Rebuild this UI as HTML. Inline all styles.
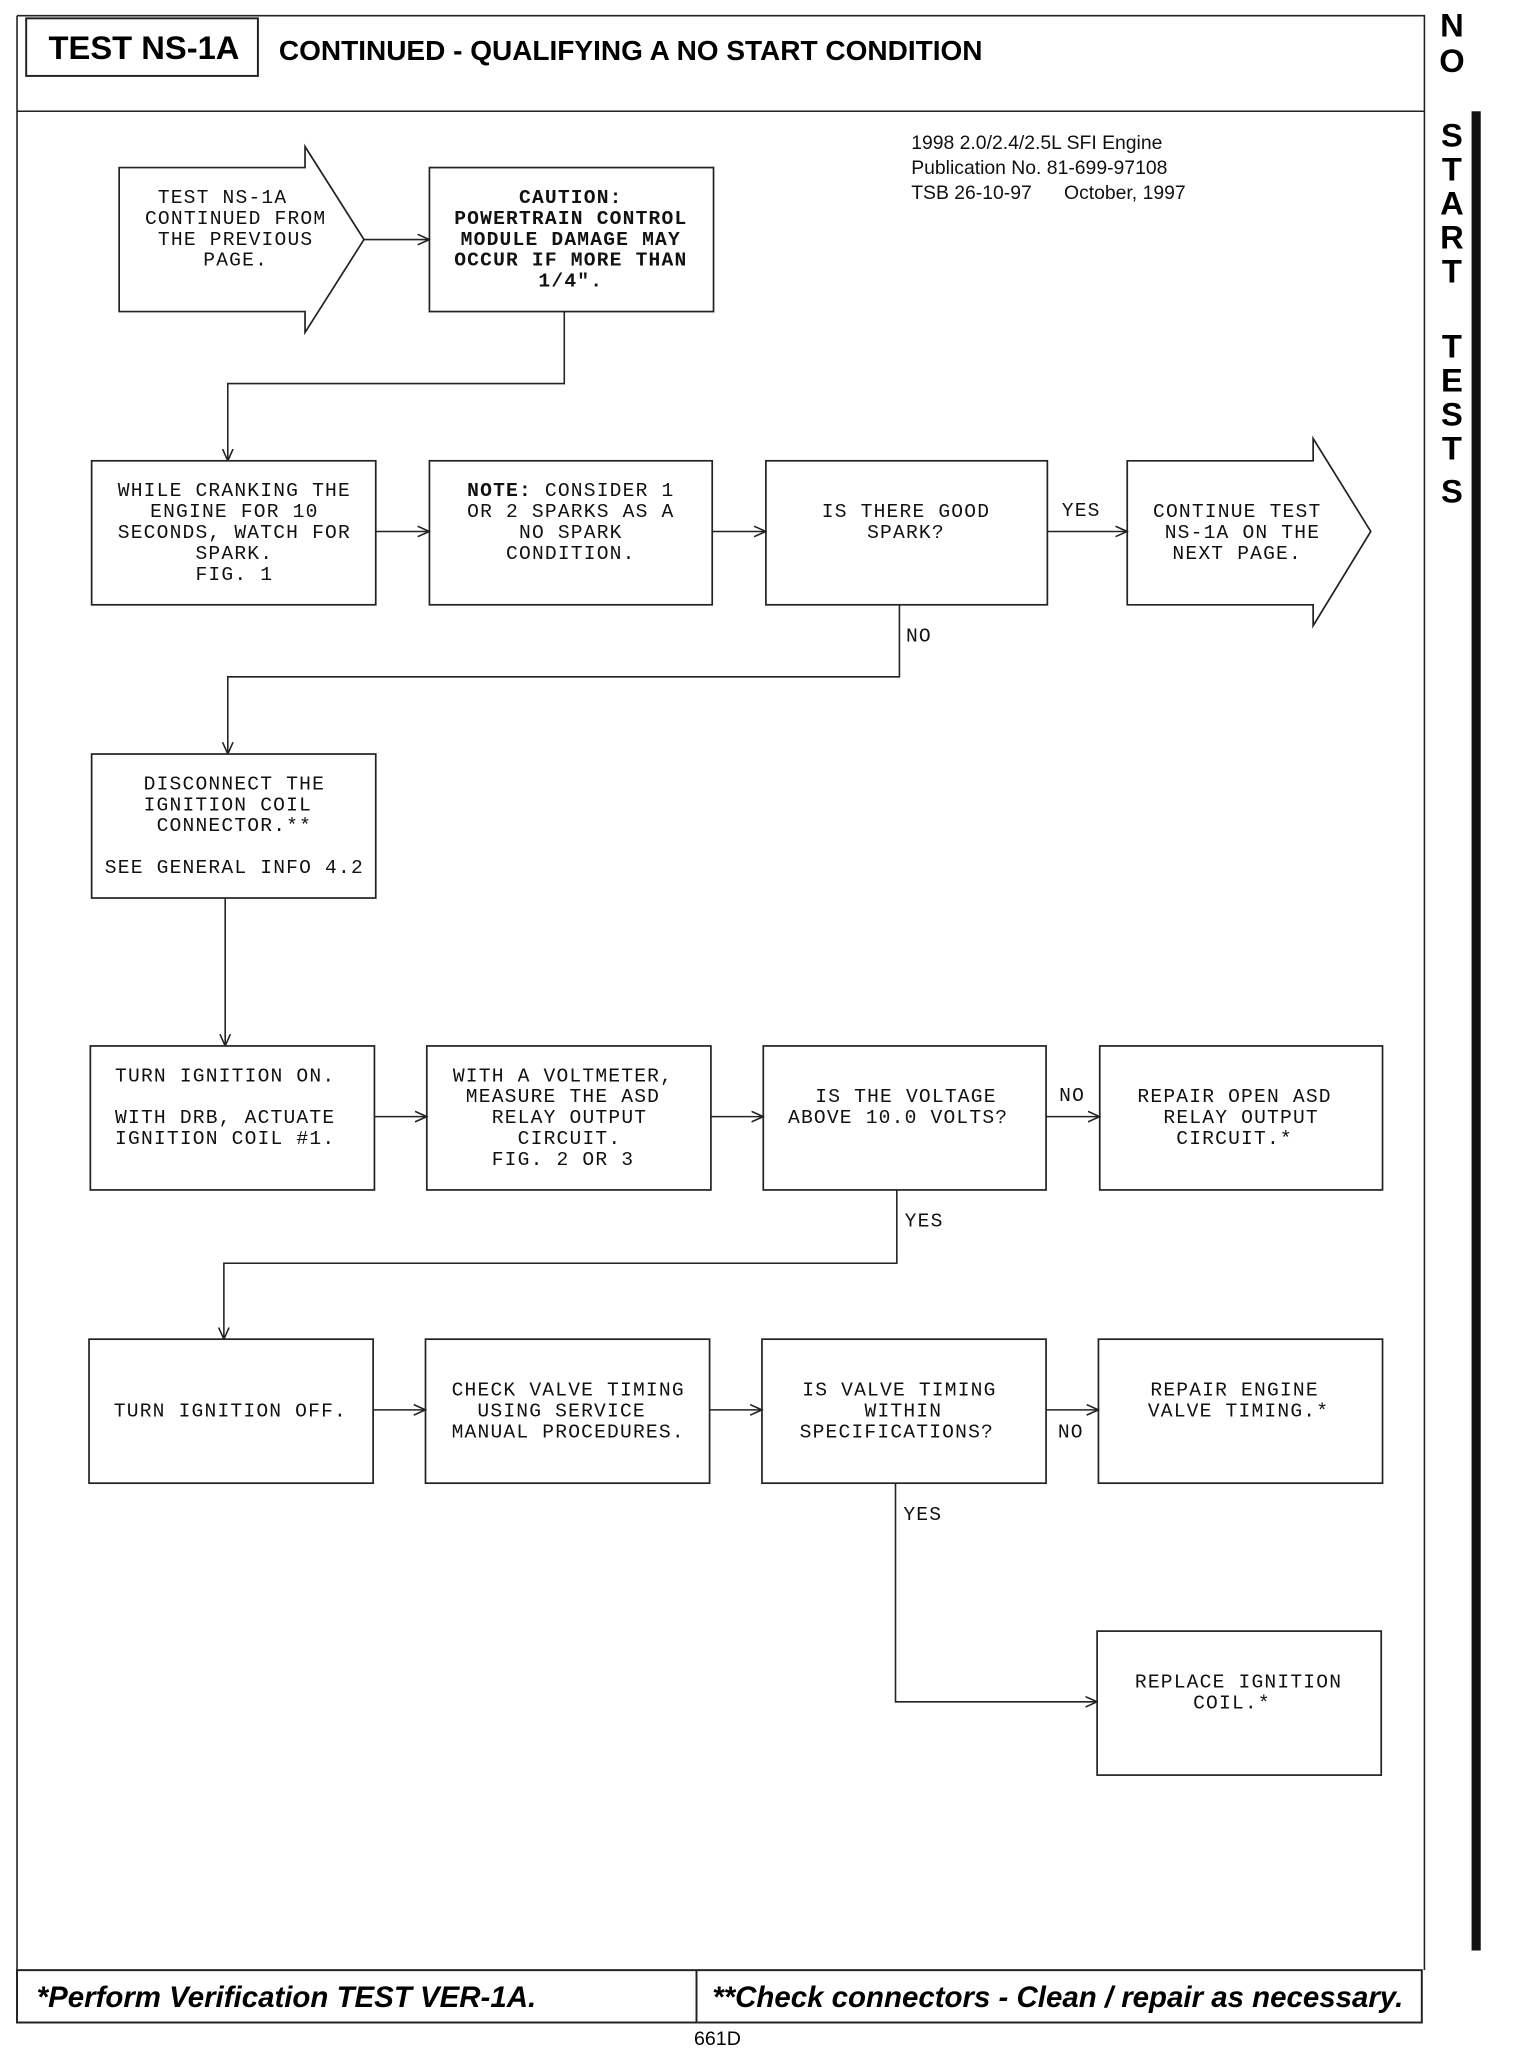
<!DOCTYPE html>
<html><head><meta charset="utf-8"><style>
html,body{margin:0;padding:0;background:#fff;}
svg{display:block;}
.m{font-family:"Liberation Mono",monospace;font-size:15px;letter-spacing:0.9px;fill:#111;}
.s{font-family:"Liberation Sans",sans-serif;font-size:14.8px;fill:#111;}
.l{stroke:#222;stroke-width:1.2;fill:none;}
.b{stroke:#222;stroke-width:1.3;fill:#fff;}
</style></head><body>
<svg width="1520" height="2050" viewBox="0 0 1161 1566" preserveAspectRatio="none" xmlns="http://www.w3.org/2000/svg">
<defs><marker id="a" markerWidth="10" markerHeight="10" refX="9" refY="5" orient="auto" markerUnits="userSpaceOnUse"><path d="M0,1 L9,5 L0,9" fill="none" stroke="#222" stroke-width="1.2"/></marker></defs>
<path class="l" d="M13,12 L1088,12 L1088,1505 M13,12 L13,1545 M13,85 L1088,85" stroke-width="1.5"/>
<rect x="20" y="14" width="177" height="44" fill="none" stroke="#222" stroke-width="1.5"/>
<text x="110" y="45" text-anchor="middle" style="font-family:'Liberation Sans',sans-serif;font-weight:bold;font-size:25px">TEST NS-1A</text>
<text x="213" y="46" style="font-family:'Liberation Sans',sans-serif;font-weight:bold;font-size:21.4px">CONTINUED - QUALIFYING A NO START CONDITION</text>
<rect x="1124" y="85" width="7" height="1405" fill="#111"/>
<g style="font-family:'Liberation Sans',sans-serif;font-weight:bold;font-size:25px" text-anchor="middle">
<text x="1109" y="28">N</text><text x="1109" y="55">O</text>
<text x="1109" y="112">S</text><text x="1109" y="138">T</text><text x="1109" y="164">A</text><text x="1109" y="190">R</text><text x="1109" y="216">T</text>
<text x="1109" y="273">T</text><text x="1109" y="299">E</text><text x="1109" y="325">S</text><text x="1109" y="351">T</text><text x="1109" y="384">S</text>
</g>
<text class="s" x="696" y="114">1998 2.0/2.4/2.5L SFI Engine</text>
<text class="s" x="696" y="133">Publication No. 81-699-97108</text>
<text class="s" x="696" y="152">TSB 26-10-97 &#160;&#160;&#160;&#160; October, 1997</text>
<polygon class="b" points="91,128 233,128 233,112 278,183 233,254 233,238 91,238"/>
<g class="m" text-anchor="middle"><text x="170" y="155">TEST NS-1A</text><text x="180" y="171">CONTINUED FROM</text><text x="180" y="187">THE PREVIOUS</text><text x="180" y="203">PAGE.</text></g>
<rect class="b" x="328" y="128" width="217" height="110"/>
<g class="m" text-anchor="middle" font-weight="bold"><text x="436" y="155">CAUTION:</text><text x="436" y="171">POWERTRAIN CONTROL</text><text x="436" y="187">MODULE DAMAGE MAY</text><text x="436" y="203">OCCUR IF MORE THAN</text><text x="436" y="219">1/4".</text></g>
<path class="l" d="M278,183 L328,183" marker-end="url(#a)"/>
<path class="l" d="M431,238 L431,293 L174,293 L174,352" marker-end="url(#a)"/>
<rect class="b" x="70" y="352" width="217" height="110"/>
<g class="m" text-anchor="middle"><text x="179" y="379">WHILE CRANKING THE</text><text x="179" y="395">ENGINE FOR 10</text><text x="179" y="411">SECONDS, WATCH FOR</text><text x="179" y="427">SPARK.</text><text x="179" y="443">FIG. 1</text></g>
<rect class="b" x="328" y="352" width="216" height="110"/>
<g class="m" text-anchor="middle"><text x="436" y="379"><tspan font-weight="bold">NOTE:</tspan> CONSIDER 1</text><text x="436" y="395">OR 2 SPARKS AS A</text><text x="436" y="411">NO SPARK</text><text x="436" y="427">CONDITION.</text></g>
<rect class="b" x="585" y="352" width="215" height="110"/>
<g class="m" text-anchor="middle"><text x="692" y="395">IS THERE GOOD</text><text x="692" y="411">SPARK?</text></g>
<polygon class="b" points="861,352 1003,352 1003,335 1047,406 1003,478 1003,462 861,462"/>
<g class="m" text-anchor="middle"><text x="945" y="395">CONTINUE TEST</text><text x="949" y="411">NS-1A ON THE</text><text x="945" y="427">NEXT PAGE.</text></g>
<path class="l" d="M287,406 L328,406" marker-end="url(#a)"/>
<path class="l" d="M544,406 L585,406" marker-end="url(#a)"/>
<path class="l" d="M800,406 L861,406" marker-end="url(#a)"/>
<text class="m" x="811" y="394">YES</text>
<path class="l" d="M687,462 L687,517 L174,517 L174,576" marker-end="url(#a)"/>
<text class="m" x="692" y="490">NO</text>
<rect class="b" x="70" y="576" width="217" height="110"/>
<g class="m" text-anchor="middle"><text x="179" y="603">DISCONNECT THE</text><text x="174" y="619">IGNITION COIL</text><text x="179" y="635">CONNECTOR.**</text><text x="179" y="667">SEE GENERAL INFO 4.2</text></g>
<path class="l" d="M172,686 L172,799" marker-end="url(#a)"/>
<rect class="b" x="69" y="799" width="217" height="110"/>
<g class="m" text-anchor="middle"><text x="172" y="826">TURN IGNITION ON.</text><text x="172" y="858">WITH DRB, ACTUATE</text><text x="172" y="874">IGNITION COIL #1.</text></g>
<rect class="b" x="326" y="799" width="217" height="110"/>
<g class="m" text-anchor="middle"><text x="430" y="826">WITH A VOLTMETER,</text><text x="430" y="842">MEASURE THE ASD</text><text x="435" y="858">RELAY OUTPUT</text><text x="435" y="874">CIRCUIT.</text><text x="430" y="890">FIG. 2 OR 3</text></g>
<rect class="b" x="583" y="799" width="216" height="110"/>
<g class="m" text-anchor="middle"><text x="692" y="842">IS THE VOLTAGE</text><text x="686" y="858">ABOVE 10.0 VOLTS?</text></g>
<rect class="b" x="840" y="799" width="216" height="110"/>
<g class="m" text-anchor="middle"><text x="943" y="842">REPAIR OPEN ASD</text><text x="948" y="858">RELAY OUTPUT</text><text x="943" y="874">CIRCUIT.*</text></g>
<path class="l" d="M286,853 L326,853" marker-end="url(#a)"/>
<path class="l" d="M543,853 L583,853" marker-end="url(#a)"/>
<path class="l" d="M799,853 L840,853" marker-end="url(#a)"/>
<text class="m" x="809" y="841">NO</text>
<path class="l" d="M685,909 L685,965 L171,965 L171,1023" marker-end="url(#a)"/>
<text class="m" x="691" y="937">YES</text>
<rect class="b" x="68" y="1023" width="217" height="110"/>
<text class="m" x="176" y="1082" text-anchor="middle">TURN IGNITION OFF.</text>
<rect class="b" x="325" y="1023" width="217" height="110"/>
<g class="m" text-anchor="middle"><text x="434" y="1066">CHECK VALVE TIMING</text><text x="429" y="1082">USING SERVICE</text><text x="434" y="1098">MANUAL PROCEDURES.</text></g>
<rect class="b" x="582" y="1023" width="217" height="110"/>
<g class="m" text-anchor="middle"><text x="687" y="1066">IS VALVE TIMING</text><text x="690" y="1082">WITHIN</text><text x="685" y="1098">SPECIFICATIONS?</text></g>
<rect class="b" x="839" y="1023" width="217" height="110"/>
<g class="m" text-anchor="middle"><text x="943" y="1066">REPAIR ENGINE</text><text x="946" y="1082">VALVE TIMING.*</text></g>
<path class="l" d="M285,1077 L325,1077" marker-end="url(#a)"/>
<path class="l" d="M542,1077 L582,1077" marker-end="url(#a)"/>
<path class="l" d="M799,1077 L839,1077" marker-end="url(#a)"/>
<text class="m" x="808" y="1098">NO</text>
<path class="l" d="M684,1133 L684,1300 L838,1300" marker-end="url(#a)"/>
<text class="m" x="690" y="1161">YES</text>
<rect class="b" x="838" y="1246" width="217" height="110"/>
<g class="m" text-anchor="middle"><text x="946" y="1289">REPLACE IGNITION</text><text x="941" y="1305">COIL.*</text></g>
<rect x="13" y="1505" width="1073" height="40" fill="none" stroke="#222" stroke-width="1.5"/>
<line x1="532" y1="1505" x2="532" y2="1545" stroke="#222" stroke-width="1.5"/>
<g style="font-family:'Liberation Sans',sans-serif;font-weight:bold;font-style:italic;font-size:22.5px">
<text x="28" y="1533">*Perform Verification TEST VER-1A.</text>
<text x="544" y="1533">**Check connectors - Clean / repair as necessary.</text></g>
<text x="548" y="1562" text-anchor="middle" style="font-family:'Liberation Sans',sans-serif;font-size:15px">661D</text>
</svg>
</body></html>
